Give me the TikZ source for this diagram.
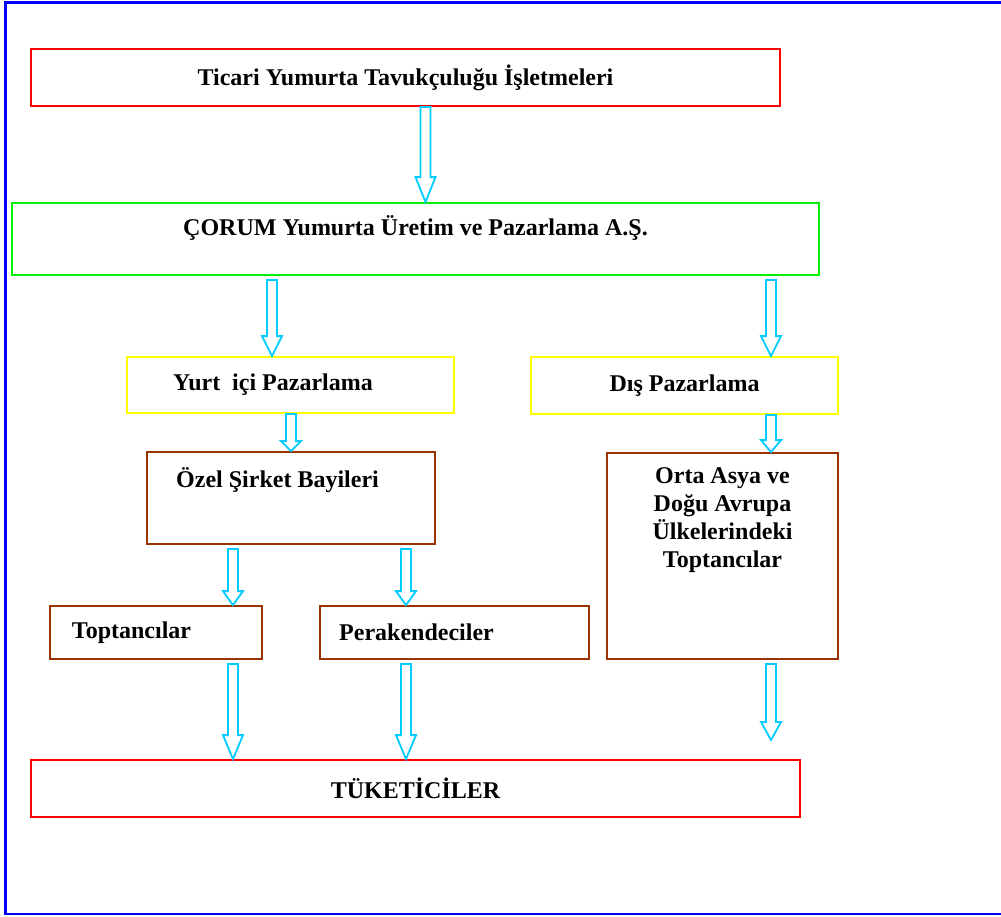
\documentclass[tikz,border=0pt]{standalone}
\usepackage{fontspec}
\setmainfont{Liberation Serif}
\usetikzlibrary{calc}

\definecolor{frameblue}{RGB}{0,0,255}
\definecolor{boxred}{RGB}{255,0,0}
\definecolor{boxgreen}{RGB}{0,240,0}
\definecolor{boxyellow}{RGB}{255,255,0}
\definecolor{boxbrown}{RGB}{153,51,0}
\definecolor{arrowcyan}{RGB}{0,204,255}

\tikzstyle{box} = [rectangle, draw, line width=1.8pt, inner sep=0pt,
    font=\fontsize{24}{28}\selectfont\bfseries]
\tikzstyle{lbl} = [inner sep=0pt, align=center,
    font=\fontsize{24}{28}\selectfont\bfseries]
\tikzstyle{hollow} = [draw=arrowcyan, line width=1.8pt, line join=miter]

% hollow block arrow, straight down from #2 to the height of #3
\newcommand{\hollowarrow}[3][20pt]{%
  \draw[hollow] let \p1=(#2), \p2=(#3) in
    (\x1-5pt,\y1) -- (\x1-5pt,\y2+#1) -- (\x1-10pt,\y2+#1) -- (\x1,\y2)
    -- (\x1+10pt,\y2+#1) -- (\x1+5pt,\y2+#1) -- (\x1+5pt,\y1) -- cycle;}

\begin{document}
\begin{tikzpicture}[x=1pt, y=-1pt]
    \useasboundingbox (0,0) rectangle (1001,916);
    \draw[frameblue, line width=2.5pt] (1001,2.7) -- (5.5,2.7) -- (5.5,914) -- (1001,914);

    \node [box, draw=boxred, minimum width=749pt, minimum height=57pt] (ticari) at (405.5,77.5)
        {Ticari Yumurta Tavukçuluğu İşletmeleri};
    \node [box, draw=boxgreen, minimum width=807pt, minimum height=72pt] (corum) at (415.5,239) {};
    \node [lbl] (corumtext) at ([yshift=11pt]corum.center) {ÇORUM Yumurta Üretim ve Pazarlama A.Ş.};

    \node [box, draw=boxyellow, minimum width=327pt, minimum height=56pt] (yurtici) at (290.5,385) {};
    \node [lbl] (yurticitext) at ([xshift=-17.5pt]yurtici.center) {Yurt\ \ içi Pazarlama};
    \node [box, draw=boxyellow, minimum width=307pt, minimum height=57pt] (dis) at (684.5,385.5)
        {Dış Pazarlama};

    \node [box, draw=boxbrown, minimum width=288pt, minimum height=92pt] (ozel) at (291,498) {};
    \node [lbl] (ozeltext) at ([shift={(-13.5pt,18pt)}]ozel.center) {Özel Şirket Bayileri};
    \node [box, draw=boxbrown, minimum width=231pt, minimum height=206pt] (orta) at (722.5,556) {};
    \node [lbl] (ortatext) at ([yshift=36pt]orta.center)
        {Orta Asya ve\\Doğu Avrupa\\Ülkelerindeki\\Toptancılar};

    \node [box, draw=boxbrown, minimum width=212pt, minimum height=53pt] (toptan) at (156,632.5) {};
    \node [lbl] (toptantext) at ([xshift=-24.5pt]toptan.center) {Toptancılar};
    \node [box, draw=boxbrown, minimum width=269pt, minimum height=53pt] (perak) at (454.5,632.5) {};
    \node [lbl] (peraktext) at ([xshift=-38pt]perak.center) {Perakendeciler};

    \node [box, draw=boxred, minimum width=769pt, minimum height=57pt] (tuketici) at (415.5,788.5)
        {TÜKETİCİLER};
    \coordinate (ortaend) at (771,740);

    \hollowarrow[25pt]{[xshift=20pt]ticari.south}{corum.north}
    \hollowarrow{[shift={(-143.5pt,-4pt)}]corum.south}{yurtici.north}
    \hollowarrow{[shift={(355.5pt,-4pt)}]corum.south}{dis.north}
    \hollowarrow[10pt]{[xshift=0.5pt]yurtici.south}{ozel.north}
    \hollowarrow[12pt]{[xshift=86.5pt]dis.south}{orta.north}
    \hollowarrow[14pt]{[shift={(-58pt,-4pt)}]ozel.south}{toptan.north}
    \hollowarrow[14pt]{[shift={(115pt,-4pt)}]ozel.south}{perak.north}
    \hollowarrow[24pt]{[shift={(77pt,-4pt)}]toptan.south}{tuketici.north}
    \hollowarrow[24pt]{[shift={(-48.5pt,-4pt)}]perak.south}{tuketici.north}
    \hollowarrow[18pt]{[shift={(48.5pt,-4pt)}]orta.south}{ortaend}
\end{tikzpicture}
\end{document}
